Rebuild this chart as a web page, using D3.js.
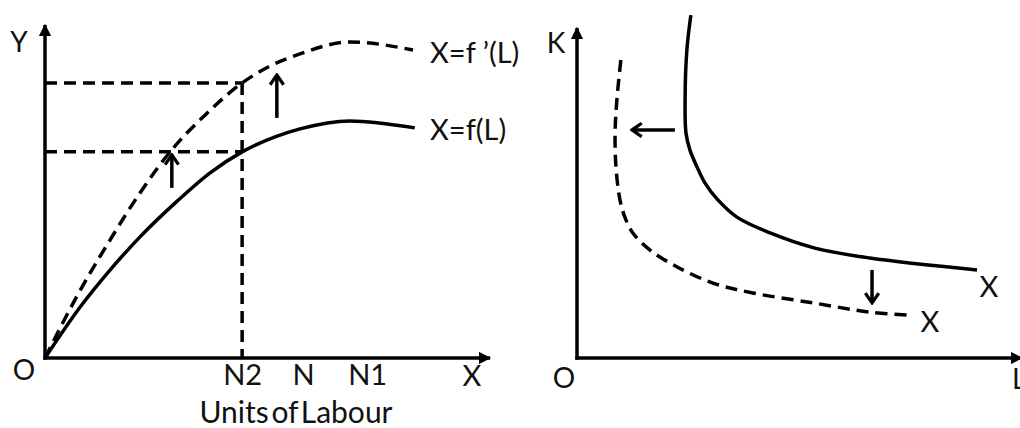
<!doctype html>
<html lang="en">
<head>
<meta charset="utf-8">
<title>Production function and isoquant shift</title>
<script src="https://cdn.jsdelivr.net/npm/d3@7"></script>
<style>
	body { margin: 0; background: #fff; }
	text { font-family: Lato, "Open Sans", sans-serif; fill: #111; }
	.axis path.domain { stroke: none; }
	.axis line { stroke: none; }
	.axis text { font-family: Lato, "Open Sans", sans-serif; font-size: 29px; fill: #111; }
</style>
</head>
<body>
<div id="viz"></div>
<script>

// LEFT PANEL DATA (labour units 0-100, output 0-100)
var labourF  = [0, 7.9, 14.6, 21.3, 29.7, 37.1, 44.3, 51.7, 57.3, 68.5, 83.1];
var outputF  = [0, 15.3, 26.4, 36.3, 47.1, 55.6, 61.9, 66.4, 68.8, 71.2, 69.1];
var labourF2 = [0, 6.7, 14.6, 21.3, 28.1, 36.0, 44.3, 50.6, 57.3, 68.5, 82.7];
var outputF2 = [0, 17.4, 35.4, 49.5, 61.9, 73.0, 82.6, 87.7, 91.3, 94.9, 92.5];

var tickLabels = ["N2", "N", "N1"];
var tickValues = [44.3, 58, 72.4];
var outputLevels = [61.9, 82.6];   // dashed guides read off at N2
// up arrows: [x, yFrom, yTo]
var shiftUp = [[28.5, 51.1, 61.0], [52.1, 72.1, 85.0]];

// RIGHT PANEL DATA (labour L, capital K)
var isoL  = [25.7, 24.8, 24.4, 24.6, 25.5, 27.1, 28.9, 31.8, 36.1, 43.6, 53.7, 66.1, 90.3];
var isoK  = [103.9, 93.3, 78.2, 68.2, 63.0, 57.9, 53.0, 47.9, 42.7, 37.9, 33.3, 30.3, 26.7];
var iso2L = [9.9, 9.0, 8.6, 8.8, 9.7, 10.8, 12.6, 16.5, 22.6, 30.7, 39.7, 53.3, 66.1, 74.5];
var iso2K = [90.3, 78.2, 68.2, 57.9, 47.9, 42.7, 37.9, 32.7, 27.6, 22.7, 19.7, 16.7, 13.9, 13.0];
// shift arrows: [xFrom, yFrom, xTo, yTo]
var shiftIn = [[22.1, 69.1, 12.4, 69.1], [66.6, 26.7, 66.6, 16.7]];

var w = 1020, h = 428;
var sw = 3.5;
var dash = "12,7";

var svg = d3.select("#viz").append("svg")
	.attr("width", w)
	.attr("height", h);

var defs = svg.append("defs");

// filled head for the axes
defs.append("marker")
	.attr("id", "axisHead")
	.attr("viewBox", "0 0 10 10")
	.attr("refX", 9).attr("refY", 5)
	.attr("markerWidth", 3.8).attr("markerHeight", 3.5)
	.attr("markerUnits", "strokeWidth")
	.attr("orient", "auto")
	.append("path")
	.attr("d", "M0,0 L10,5 L0,10 Z")
	.attr("fill", "#000");

// open V head for the shift arrows
defs.append("marker")
	.attr("id", "openHead")
	.attr("viewBox", "0 0 10 12")
	.attr("refX", 8.5).attr("refY", 6)
	.attr("markerWidth", 4).attr("markerHeight", 4.8)
	.attr("markerUnits", "strokeWidth")
	.attr("orient", "auto")
	.append("path")
	.attr("d", "M1.5,1.2 L8.5,6 L1.5,10.8")
	.attr("fill", "none")
	.attr("stroke", "#000")
	.attr("stroke-width", 2.3);

// ---------- LEFT: X = f(L) ----------
var xL = d3.scaleLinear().domain([0, 100]).range([45, 490]);
var yL = d3.scaleLinear().domain([0, 100]).range([358, 25]);

var left = svg.append("g");

var lineL = d3.line()
	.x(d => xL(d[0]))
	.y(d => yL(d[1]))
	.curve(d3.curveMonotoneX);

// dashed guides from N2
left.selectAll(".guide")
	.data(outputLevels)
	.enter()
	.append("line")
	.attr("x1", xL(0)).attr("x2", xL(tickValues[0]))
	.attr("y1", d => yL(d)).attr("y2", d => yL(d))
	.attr("stroke", "#000").attr("stroke-width", sw)
	.attr("stroke-dasharray", dash);

left.append("line")
	.attr("x1", xL(tickValues[0])).attr("x2", xL(tickValues[0]))
	.attr("y1", yL(d3.max(outputLevels))).attr("y2", yL(0))
	.attr("stroke", "#000").attr("stroke-width", sw)
	.attr("stroke-dasharray", dash);

left.append("path")
	.datum(d3.zip(labourF, outputF))
	.attr("d", lineL)
	.attr("fill", "none").attr("stroke", "#000").attr("stroke-width", sw);

left.append("path")
	.datum(d3.zip(labourF2, outputF2))
	.attr("d", lineL)
	.attr("fill", "none").attr("stroke", "#000").attr("stroke-width", sw)
	.attr("stroke-dasharray", dash);

left.selectAll(".up")
	.data(shiftUp)
	.enter()
	.append("line")
	.attr("x1", d => xL(d[0])).attr("x2", d => xL(d[0]))
	.attr("y1", d => yL(d[1])).attr("y2", d => yL(d[2]))
	.attr("stroke", "#000").attr("stroke-width", sw)
	.attr("marker-end", "url(#openHead)");

// axes
left.append("line")
	.attr("x1", xL(0)).attr("y1", yL(0) + 1.7)
	.attr("x2", xL(0)).attr("y2", yL(100))
	.attr("stroke", "#000").attr("stroke-width", sw)
	.attr("marker-end", "url(#axisHead)");
left.append("line")
	.attr("x1", xL(0) - 1.7).attr("y1", yL(0))
	.attr("x2", xL(100)).attr("y2", yL(0))
	.attr("stroke", "#000").attr("stroke-width", sw)
	.attr("marker-end", "url(#axisHead)");

left.append("g")
	.attr("class", "axis")
	.attr("transform", "translate(0," + yL(0) + ")")
	.call(d3.axisBottom(xL)
		.tickValues(tickValues)
		.tickFormat((d, i) => tickLabels[i])
		.tickSize(0)
		.tickPadding(6));

left.append("text").attr("x", 472).attr("y", 386).attr("text-anchor", "middle")
	.style("font-size", "29px").text("X");
left.append("text").attr("x", 296).attr("y", 423).attr("text-anchor", "middle")
	.style("font-size", "30px").style("word-spacing", "-5px").text("Units of Labour");
left.append("text").attr("x", 19).attr("y", 52).attr("text-anchor", "middle")
	.style("font-size", "28px").text("Y");
left.append("text").attr("x", 24).attr("y", 380).attr("text-anchor", "middle")
	.style("font-size", "28px").text("O");
left.append("text").attr("x", 430).attr("y", 63)
	.style("font-size", "29px").text("X=f \u2019(L)");
left.append("text").attr("x", 430).attr("y", 140)
	.style("font-size", "29px").text("X=f(L)");

// ---------- RIGHT: isoquants ----------
var xR = d3.scaleLinear().domain([0, 100]).range([577, 1020]);
var yR = d3.scaleLinear().domain([0, 100]).range([358, 28]);

var right = svg.append("g");

var lineR = d3.line()
	.x(d => xR(d[0]))
	.y(d => yR(d[1]))
	.curve(d3.curveCatmullRom.alpha(0.5));

right.append("path")
	.datum(d3.zip(isoL, isoK))
	.attr("d", lineR)
	.attr("fill", "none").attr("stroke", "#000").attr("stroke-width", sw);

right.append("path")
	.datum(d3.zip(iso2L, iso2K))
	.attr("d", lineR)
	.attr("fill", "none").attr("stroke", "#000").attr("stroke-width", sw)
	.attr("stroke-dasharray", dash);

right.selectAll(".shift")
	.data(shiftIn)
	.enter()
	.append("line")
	.attr("x1", d => xR(d[0])).attr("y1", d => yR(d[1]))
	.attr("x2", d => xR(d[2])).attr("y2", d => yR(d[3]))
	.attr("stroke", "#000").attr("stroke-width", sw)
	.attr("marker-end", "url(#openHead)");

right.append("line")
	.attr("x1", xR(0)).attr("y1", yR(0) + 1.7)
	.attr("x2", xR(0)).attr("y2", yR(100))
	.attr("stroke", "#000").attr("stroke-width", sw)
	.attr("marker-end", "url(#axisHead)");
right.append("line")
	.attr("x1", xR(0) - 1.7).attr("y1", yR(0))
	.attr("x2", xR(100) + 2).attr("y2", yR(0))
	.attr("stroke", "#000").attr("stroke-width", sw)
	.attr("marker-end", "url(#axisHead)");

right.append("text").attr("x", 556).attr("y", 53).attr("text-anchor", "middle")
	.style("font-size", "28px").text("K");
right.append("text").attr("x", 564).attr("y", 388).attr("text-anchor", "middle")
	.style("font-size", "28px").text("O");
right.append("text").attr("x", 1012).attr("y", 389)
	.style("font-size", "28px").text("L");
right.append("text").attr("x", 989).attr("y", 297).attr("text-anchor", "middle")
	.style("font-size", "29px").text("X");
right.append("text").attr("x", 930).attr("y", 332).attr("text-anchor", "middle")
	.style("font-size", "29px").text("X");

</script>
</body>
</html>
